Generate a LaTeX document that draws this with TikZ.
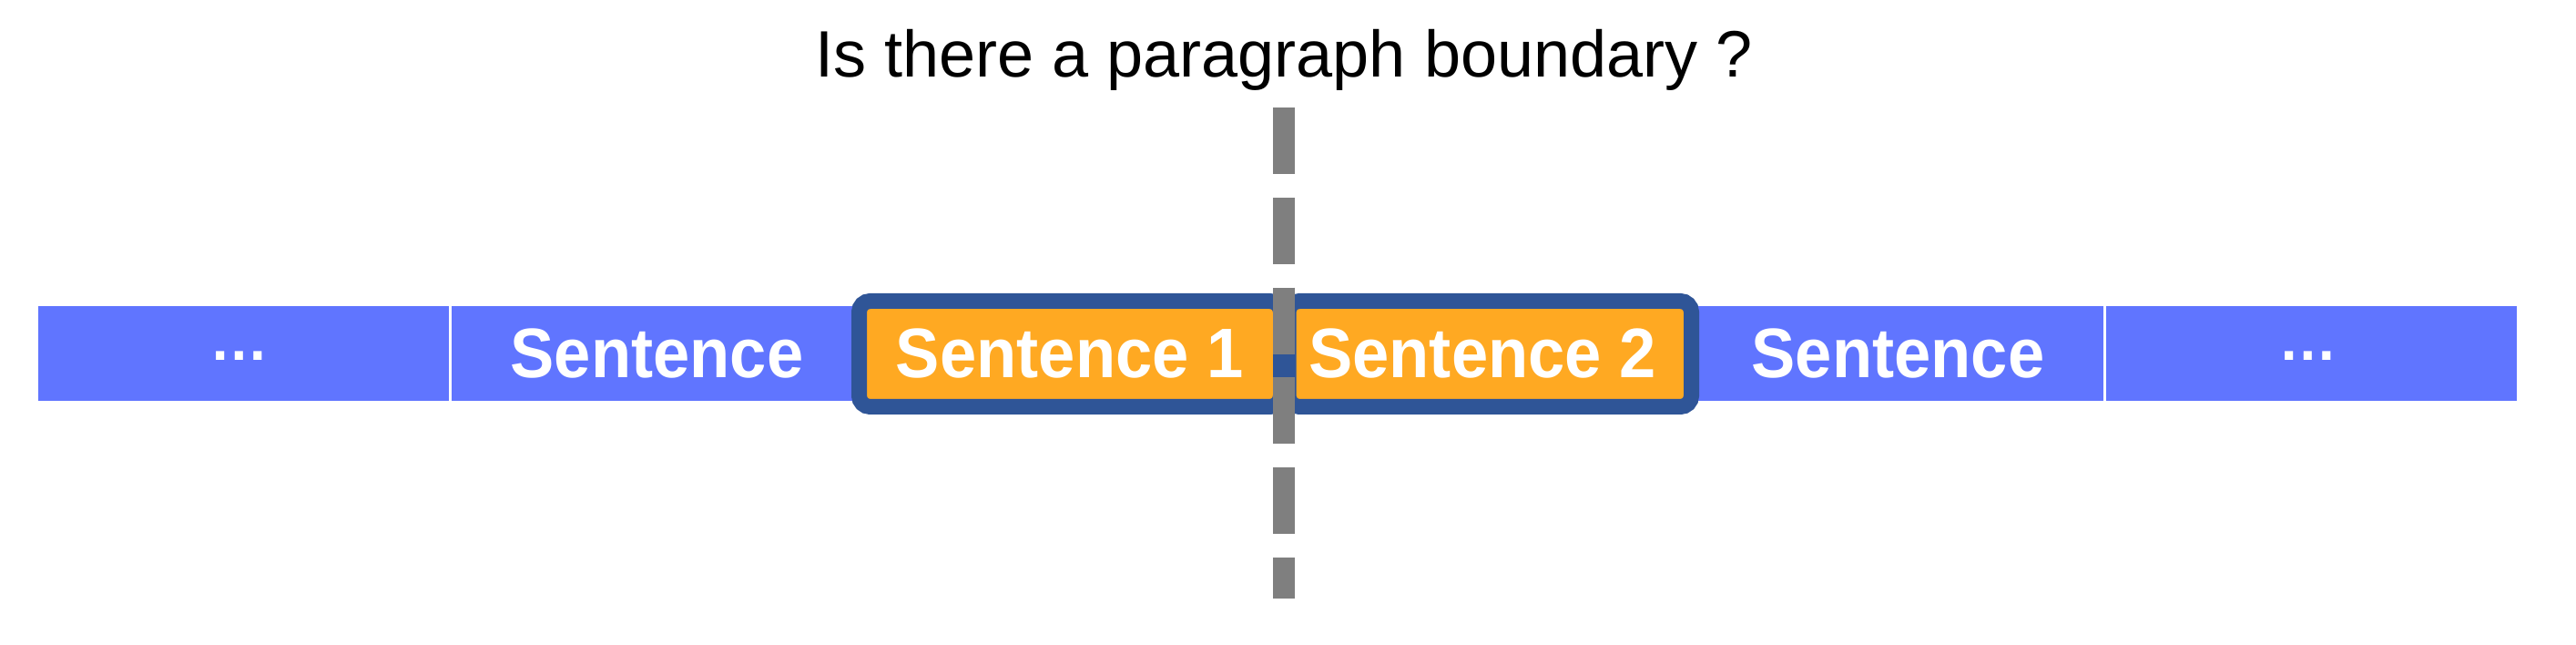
\documentclass[tikz,border=0pt]{standalone}
\usepackage{fontspec}
\setmainfont{Liberation Sans}
\newfontfamily\cellfont{Liberation Sans}[FakeStretch=0.94]
\usetikzlibrary{positioning}

\definecolor{barblue}{HTML}{6075FF}
\definecolor{sentorange}{HTML}{FFA922}
\definecolor{frameblue}{HTML}{2F5597}
\definecolor{cutgray}{HTML}{7F7F7F}

\tikzset{
	cell/.style={fill=barblue, draw=white, line width=0.03cm, minimum width=4.543cm, minimum height=1.07cm, inner sep=0pt, outer sep=0pt, text=white, font=\cellfont\bfseries\fontsize{21.9}{26}\selectfont},
	gapcell/.style={cell, font=\bfseries\fontsize{18.4}{22}\selectfont},
	pairbox/.style={fill=sentorange, draw=frameblue, line width=0.17cm, rounded corners=0.12cm, minimum height=1.16cm, inner sep=0pt, text=white, font=\cellfont\bfseries\fontsize{21.9}{26}\selectfont},
	cut/.style={draw=cutgray, line width=0.24cm, dash pattern=on 0.73cm off 0.258cm}
}

\begin{document}
\begin{tikzpicture}
					\useasboundingbox (0,0) rectangle (28.29,7.08);
					
					\node[gapcell] (c1) at (2.672,3.195) {\raisebox{-0.07cm}[0pt][0pt]{…}\hspace*{0.08cm}};
					\node[cell, right=0cm of c1] (c2) {Sentence};
					\node[cell] (c5) at (20.845,3.195) {Sentence};
					\node[gapcell, right=0cm of c5] (c6) {\raisebox{-0.07cm}[0pt][0pt]{…}\hspace*{0.08cm}};
					
					\node[pairbox, minimum width=4.63cm] (s1) at (11.75,3.195) {Sentence 1};
					\node[pairbox, minimum width=4.425cm] (s2) at (16.3625,3.195) {Sentence 2\hspace*{0.16cm}};
					
					\coordinate (top) at (14.10,5.90);
					\coordinate (bot) at (14.10,0.51);
					\draw[cut] (top) -- (bot);
					
					\node[anchor=base, font=\fontsize{20.5}{24}\selectfont] (q) at (14.1,6.23) {Is there a paragraph boundary ?};
				\end{tikzpicture}
\end{document}
